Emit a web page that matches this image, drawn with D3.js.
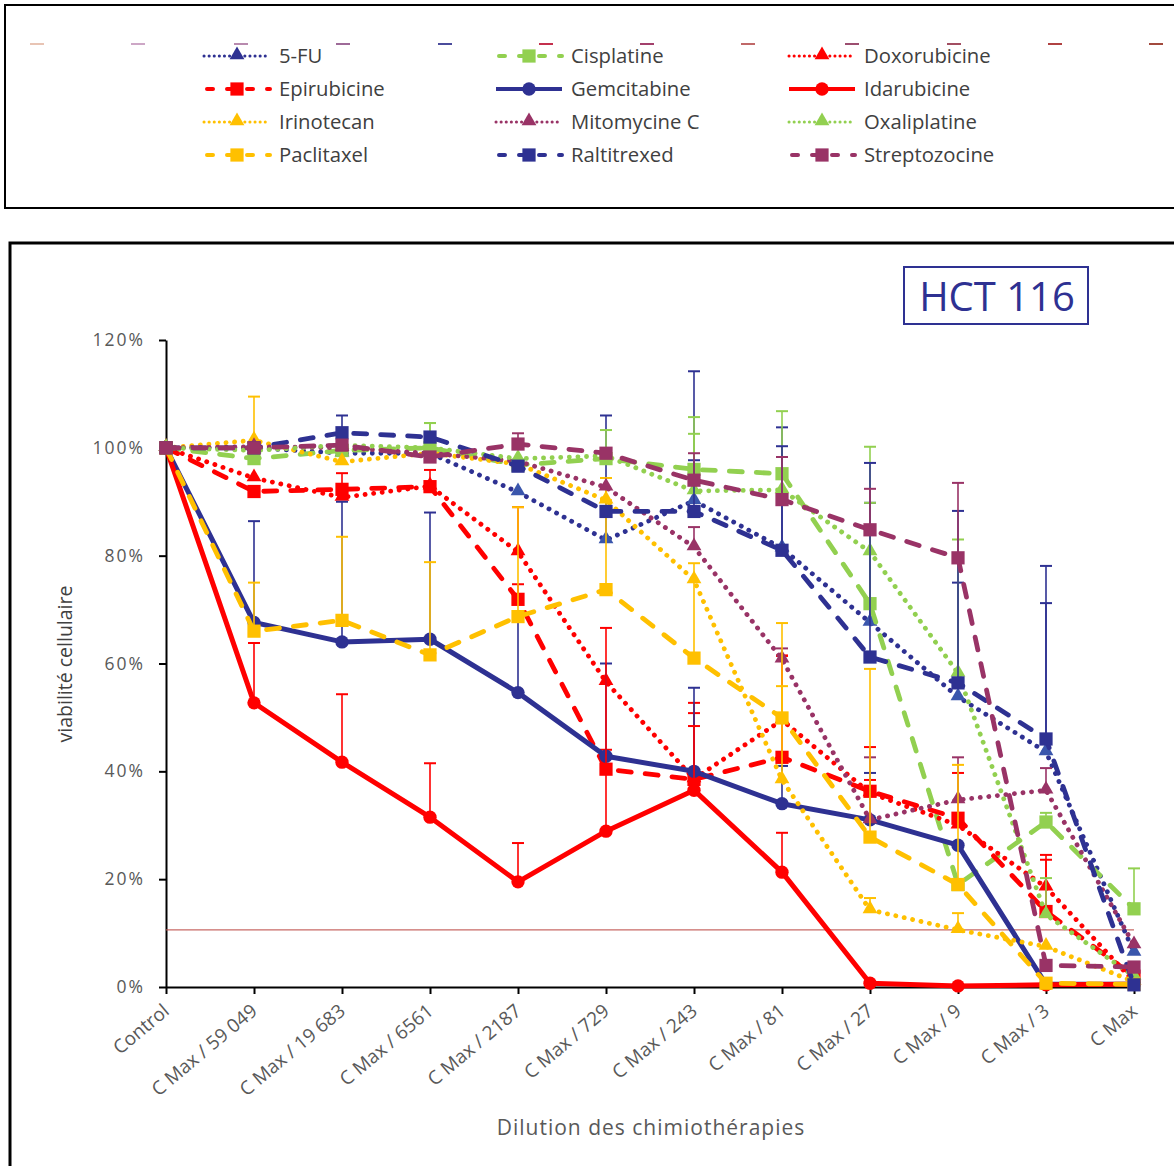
<!DOCTYPE html>
<html><head><meta charset="utf-8">
<script src="https://cdn.jsdelivr.net/npm/d3@7"></script>
<style>
body{margin:0;background:#fff;}
svg{display:block;font-family:"Open Sans","Noto Sans",sans-serif;}
</style>
</head><body>
<svg id="c" width="1174" height="1166"></svg>
<script>
// ---------- data ----------
const categories = ["Control","C Max / 59 049","C Max / 19 683","C Max / 6561","C Max / 2187","C Max / 729","C Max / 243","C Max / 81","C Max / 27","C Max / 9","C Max / 3","C Max"];
const yTicks = [0,20,40,60,80,100,120];
const seriesNames = ["5-FU","Cisplatine","Doxorubicine","Epirubicine","Gemcitabine","Idarubicine","Irinotecan","Mitomycine C","Oxaliplatine","Paclitaxel","Raltitrexed","Streptozocine"];

const fu5          = [100, 100, 99, 99, 91.8, 82.9, 90.2, 81.4, 67.6, 53.8, 43.6, 6.4];
const cisplatine   = [100, 98, 99.5, 100, 96.8, 98, 96, 95.2, 71.1, 19, 30.6, 14.5];
const doxorubicine = [100, 94.4, 90.8, 92.9, 80.7, 56.6, 38.6, 49.5, 36, 30, 18.5, 1];
const epirubicine  = [100, 91.9, 92.3, 92.8, 71.9, 40.4, 38.5, 42.6, 36.3, 31.3, 14, 2];
const gemcitabine  = [100, 67.6, 64, 64.5, 54.6, 42.8, 40, 34, 31, 26.3, 0.5, 0.5];
const idarubicine  = [100, 52.7, 41.7, 31.5, 19.5, 28.9, 36.5, 21.3, 0.7, 0.2, 0.4, 0.5];
const irinotecan   = [100, 101.4, 97.4, 99, 97, 90.3, 75.5, 38.4, 14.3, 10.6, 7.5, 1];
const mitomycine   = [100, 100.2, 100, 99, 97.5, 92.7, 81.6, 60.8, 31, 34.7, 36.5, 7.8];
const oxaliplatine = [100, 99.5, 100.5, 100, 98, 98.5, 92, 92.2, 80.7, 58.2, 13.4, 2];
const paclitaxel   = [100, 66, 68, 61.6, 68.7, 73.7, 61, 49.9, 27.8, 19, 0.7, 0.5];
const raltitrexed  = [100, 100, 102.8, 102, 96.6, 88.2, 88.2, 81, 61.2, 56.4, 46, 0.4];
const streptozocine= [100, 100, 100.5, 98.3, 100.7, 99, 94, 90.4, 84.8, 79.6, 4, 3.7];

// upper error bars (plus only)
const fu5Err          = [0, 0, 0, 0, 0, 23.1, 24, 22.4, 22.2, 21.2, 27.6, 0];
const cisplatineErr   = [0, 0, 0, 4.6, 0, 5.3, 9.7, 11.6, 29.1, 0, 1.7, 7.5];
const doxorubicineErr = [0, 0, 0, 0, 8.3, 0, 14.1, 12, 2.4, 0, 6, 0];
const epirubicineErr  = [0, 0, 3, 3.1, 2.8, 3.6, 12.3, 18.8, 8.2, 8.4, 9.6, 0];
const gemcitabineErr  = [0, 18.8, 26, 23.5, 14.5, 17.2, 15.5, 7, 8.7, 0, 0, 0];
const idarubicineErr  = [0, 11.1, 12.6, 10, 7.2, 37.7, 11.9, 7.3, 0, 0, 0, 0];
const irinotecanErr   = [0, 8.1, 0, 0, 0, 4.1, 0, 17.4, 2.2, 3.1, 0, 0];
const mitomycineErr   = [0, 0, 0, 0, 0, 0, 3.7, 2, 11.6, 7.9, 4.1, 0];
const oxaliplatineErr = [0, 0, 0, 4.6, 0, 0, 10.6, 0, 9.1, 24.8, 6.8, 0];
const paclitaxelErr   = [0, 9, 15.5, 17.2, 20.3, 16.6, 17.6, 17.6, 31.2, 22.2, 0, 0];
const raltitrexedErr  = [0, 0, 3.2, 0, 0, 0, 9.5, 19.3, 36, 31.9, 32.1, 0];
const streptozocineErr= [0, 0, 0, 0, 2, 0, 5, 7.9, 7.6, 13.9, 0, 0];

const thresholdValue = 10.6;

const valueTable = [fu5,cisplatine,doxorubicine,epirubicine,gemcitabine,idarubicine,irinotecan,mitomycine,oxaliplatine,paclitaxel,raltitrexed,streptozocine];
const errTable = [fu5Err,cisplatineErr,doxorubicineErr,epirubicineErr,gemcitabineErr,idarubicineErr,irinotecanErr,mitomycineErr,oxaliplatineErr,paclitaxelErr,raltitrexedErr,streptozocineErr];

// ---------- styles ----------
const NAVY="#2E3192", RED="#FF0000", GREEN="#92D050", GOLD="#FFC000", PLUM="#993366";
const styleTable = [
  {color:NAVY, dash:"dot",  marker:"tri", mcol:"#3A56AC"},
  {color:GREEN,dash:"dash", marker:"sq"},
  {color:RED,  dash:"dot",  marker:"tri"},
  {color:RED,  dash:"dash", marker:"sq"},
  {color:NAVY, dash:"solid",marker:"circ"},
  {color:RED,  dash:"solid",marker:"circ"},
  {color:GOLD, dash:"dot",  marker:"tri"},
  {color:PLUM, dash:"dot",  marker:"tri"},
  {color:GREEN,dash:"dot",  marker:"tri"},
  {color:GOLD, dash:"dash", marker:"sq"},
  {color:NAVY, dash:"dash", marker:"sq"},
  {color:PLUM, dash:"dash", marker:"sq"}
];
const series = seriesNames.map((n,i)=>({name:n, values:valueTable[i], err:errTable[i], ...styleTable[i]}));

const svg = d3.select("#c");

// ---------- legend box ----------
svg.append("rect").attr("x",5).attr("y",5).attr("width",1180).attr("height",203)
  .attr("fill","none").attr("stroke","#000").attr("stroke-width",2);

const stubColors = ["#E8C4B4","#CDA7C6","#B88AAE","#9E6A98","#4B4C9C","#C4304E","#A3406C","#C06868","#9C4E70","#A24E62","#B04242","#A24A3E"];
const stubX = [37,138,241,343,445,546,647,748,852,954,1055,1156];
svg.append("g").selectAll("line").data(stubX).join("line")
  .attr("x1",d=>d-7).attr("x2",d=>d+7).attr("y1",44).attr("y2",44)
  .attr("stroke",(d,i)=>stubColors[i]).attr("stroke-width",2);

function dashArr(d){ return d==="dot" ? "0.1 8.5" : d==="dash" ? "13 14" : null; }
function symbolFor(m){
  if(m==="tri") return d3.symbol().type(d3.symbolTriangle).size(95)();
  if(m==="sq") return d3.symbol().type(d3.symbolSquare).size(175)();
  return d3.symbol().type(d3.symbolCircle).size(140)();
}
function lineW(s){ return s.dash==="solid" ? 5 : 4.8; }

const legCols = [237, 529, 822];
const legRows = [56, 89, 122, 155];
const leg = svg.append("g");
series.forEach((s,i)=>{
  const cx = legCols[i%3], cy = legRows[Math.floor(i/3)];
  const g = leg.append("g");
  g.append("line").attr("x1",cx-33).attr("x2",cx+33).attr("y1",cy).attr("y2",cy)
    .attr("stroke",s.color).attr("stroke-width",s.dash==="dot"?3:4)
    .attr("stroke-linecap",s.dash==="solid"?"butt":"round")
    .attr("stroke-dasharray", s.dash==="dot" ? "0.1 5" : s.dash==="dash" ? "6 14" : null)
    .attr("stroke-dashoffset", s.dash==="dash" ? -3 : 0);
  g.append("path").attr("d",symbolFor(s.marker)).attr("transform",`translate(${cx},${cy + (s.marker==="tri"?-1:0)})`)
    .attr("fill",s.marker==="tri" && s.mcol ? NAVY : s.color);
  g.append("text").attr("x",legCols[i%3]+42).attr("y",cy+7).text(s.name)
    .attr("font-size",20.3).attr("fill","#404040");
});

// ---------- chart box ----------
svg.append("rect").attr("x",10).attr("y",243).attr("width",1180).attr("height",940)
  .attr("fill","none").attr("stroke","#000").attr("stroke-width",3);

// title box
svg.append("rect").attr("x",904).attr("y",267).attr("width",184).attr("height",57)
  .attr("fill","none").attr("stroke",NAVY).attr("stroke-width",2);
svg.append("text").attr("x",997).attr("y",311).attr("text-anchor","middle")
  .attr("font-size",40).attr("fill",NAVY).text("HCT 116");

// ---------- scales ----------
const x = d3.scalePoint().domain(categories).range([166,1134]);
const y = d3.scaleLinear().domain([0,120]).range([987,340]);

// y axis
const yAxis = svg.append("g").attr("transform","translate(166,0)")
  .call(d3.axisLeft(y).tickValues(yTicks).tickFormat(d=>d+"%").tickSize(7).tickSizeOuter(0).tickPadding(14));
yAxis.select(".domain").attr("stroke","#000").attr("stroke-width",2);
yAxis.selectAll(".tick line").attr("stroke","#000").attr("stroke-width",2);
yAxis.selectAll("text").attr("font-size",17.5).attr("fill","#595959").attr("letter-spacing",2)
  .attr("font-family","'Open Sans',sans-serif");

// x axis
const xAxis = svg.append("g").attr("transform","translate(0,987)")
  .call(d3.axisBottom(x).tickSize(7).tickSizeOuter(0));
xAxis.select(".domain").attr("stroke","#000").attr("stroke-width",2);
xAxis.selectAll(".tick line").attr("stroke","#000").attr("stroke-width",2);
xAxis.selectAll("text").attr("font-size",19).attr("fill","#595959")
  .attr("font-family","'Open Sans',sans-serif")
  .attr("text-anchor","end").attr("dy",0).attr("y",0)
  .attr("transform","translate(4,26) rotate(-40)");

// axis titles
svg.append("text").attr("transform","translate(72,664) rotate(-90)").attr("text-anchor","middle")
  .attr("font-size",19.5).attr("fill","#404040").text("viabilité cellulaire");
svg.append("text").attr("x",651).attr("y",1135).attr("text-anchor","middle")
  .attr("font-size",21).attr("fill","#595959").attr("letter-spacing",1).text("Dilution des chimiothérapies");

// threshold line
svg.append("line").attr("x1",166).attr("x2",1134).attr("y1",y(thresholdValue)).attr("y2",y(thresholdValue))
  .attr("stroke","#C0504D").attr("stroke-width",1.3).attr("opacity",0.85);

// ---------- series ----------
const lineGen = d3.line().x((d,i)=>x(categories[i])).y(d=>y(d));
const plot = svg.append("g");
series.forEach(s=>{
  const g = plot.append("g");
  s.values.forEach((v,i)=>{
    const e = s.err[i];
    if(!e) return;
    const cx = x(categories[i]);
    g.append("line").attr("x1",cx).attr("x2",cx).attr("y1",y(v)).attr("y2",y(v+e))
      .attr("stroke",s.color).attr("stroke-width",1.6);
    g.append("line").attr("x1",cx-6).attr("x2",cx+6).attr("y1",y(v+e)).attr("y2",y(v+e))
      .attr("stroke",s.color).attr("stroke-width",2);
  });
  g.append("path").attr("d",lineGen(s.values)).attr("fill","none")
    .attr("stroke",s.color).attr("stroke-width",lineW(s))
    .attr("stroke-linecap","round")
    .attr("stroke-linejoin","round")
    .attr("stroke-dasharray",dashArr(s.dash));
  g.selectAll("path.m").data(s.values).join("path").attr("class","m")
    .attr("d",symbolFor(s.marker))
    .attr("transform",(d,i)=>`translate(${x(categories[i])},${y(d) + (s.marker==="tri"?-1:0)})`)
    .attr("fill",s.mcol||s.color);
});
</script>
</body></html>
